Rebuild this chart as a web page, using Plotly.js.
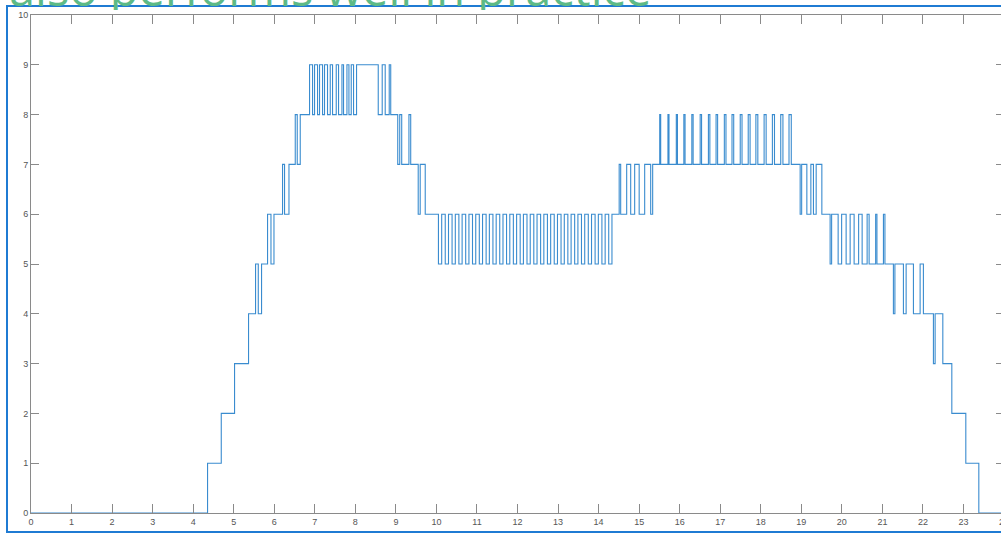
<!DOCTYPE html>
<html>
<head>
<meta charset="utf-8">
<script src="https://cdn.plot.ly/plotly-3.0.1.min.js"></script>
<style>
  html, body { margin: 0; padding: 0; overflow: hidden; background: #fff; }
  #wrap { position: relative; width: 1001px; height: 533px; overflow: hidden; }
  #chart { position: absolute; left: 0; top: 0; width: 1010px; height: 533px; z-index: 1; }
  #frame { position: absolute; left: 6px; top: 5px; width: 1020px; height: 524px;
           border: 2px solid #1f7bd3; pointer-events: none; z-index: 2; }
  #overlay { position: absolute; left: 9px; top: 0; width: 900px; height: 10px;
             overflow: hidden; z-index: 3; pointer-events: none; }
  #overlay span { position: absolute; left: 0; top: -35px; white-space: nowrap;
                  font-family: 'Open Sans', sans-serif; font-size: 47px; line-height: 47px;
                  color: #5dba86; }
</style>
</head>
<body>
<div id="wrap">
  <div id="chart"></div>
  <div id="frame"></div>
  <div id="overlay"><span id="overlayText"></span></div>
</div>
<script>
// Step signal: x positions where the level changes, and the new level
const changeX = [
  0, 4.355, 4.693, 5.021, 5.366, 5.539, 5.606, 5.687, 5.835, 5.919, 5.993,
  6.205, 6.254, 6.363, 6.518, 6.567, 6.641,
  6.871, 6.945, 6.994, 7.068, 7.117, 7.191, 7.240, 7.314, 7.381, 7.438,
  7.529, 7.586, 7.670, 7.709, 7.793, 7.842, 7.899, 7.956, 8.030,
  8.565, 8.663, 8.737, 8.836, 8.873, 9.046, 9.095, 9.144, 9.322, 9.366,
  9.551, 9.600, 9.724,
  10.050, 10.130, 10.218, 10.298, 10.386, 10.466, 10.554, 10.634, 10.722, 10.802,
  10.890, 10.970, 11.058, 11.138, 11.226, 11.306, 11.394, 11.474, 11.562, 11.642,
  11.730, 11.810, 11.898, 11.978, 12.066, 12.146, 12.234, 12.314, 12.402, 12.482,
  12.570, 12.650, 12.738, 12.818, 12.906, 12.986, 13.074, 13.154, 13.242, 13.322,
  13.410, 13.490, 13.578, 13.658, 13.746, 13.826, 13.914, 13.994, 14.082, 14.162,
  14.250, 14.330,
  14.508, 14.545, 14.693, 14.792, 14.890, 15.001, 15.137, 15.285, 15.334,
  15.508, 15.532, 15.711, 15.737, 15.917, 15.945, 16.103, 16.133, 16.300, 16.332,
  16.506, 16.540, 16.709, 16.745, 16.898, 16.936, 17.102, 17.142, 17.291, 17.333,
  17.494, 17.538, 17.691, 17.737, 17.880, 17.928, 18.083, 18.133, 18.287, 18.339,
  18.493, 18.547, 18.697, 18.753,
  18.972, 19.009, 19.137, 19.236, 19.300, 19.367, 19.507,
  19.711, 19.748, 19.909, 19.995, 20.106, 20.205, 20.303, 20.414,
  20.501, 20.624, 20.673, 20.834, 20.866, 21.026, 21.063,
  21.272, 21.309, 21.519, 21.586, 21.766, 21.931, 22.012,
  22.259, 22.301, 22.491, 22.713, 23.058, 23.379, 24
];
const level = [
  0, 1, 2, 3, 4, 5, 4, 5, 6, 5, 6,
  7, 6, 7, 8, 7, 8,
  9, 8, 9, 8, 9, 8, 9, 8, 9, 8,
  9, 8, 9, 8, 9, 8, 9, 8, 9,
  8, 9, 8, 9, 8, 7, 8, 7, 8, 7,
  6, 7, 6,
  5, 6, 5, 6, 5, 6, 5, 6, 5, 6,
  5, 6, 5, 6, 5, 6, 5, 6, 5, 6,
  5, 6, 5, 6, 5, 6, 5, 6, 5, 6,
  5, 6, 5, 6, 5, 6, 5, 6, 5, 6,
  5, 6, 5, 6, 5, 6, 5, 6, 5, 6,
  5, 6,
  7, 6, 7, 6, 7, 6, 7, 6, 7,
  8, 7, 8, 7, 8, 7, 8, 7, 8, 7,
  8, 7, 8, 7, 8, 7, 8, 7, 8, 7,
  8, 7, 8, 7, 8, 7, 8, 7, 8, 7,
  8, 7, 8, 7,
  6, 7, 6, 7, 6, 7, 6,
  5, 6, 5, 6, 5, 6, 5, 6,
  5, 6, 5, 6, 5, 6, 5,
  4, 5, 4, 5, 4, 5, 4,
  3, 4, 3, 2, 1, 0, 0
];
const xTicks = [0,1,2,3,4,5,6,7,8,9,10,11,12,13,14,15,16,17,18,19,20,21,22,23,24];
const yTicks = [0,1,2,3,4,5,6,7,8,9,10];
const overlayText = "also performs well in practice";

document.getElementById('overlayText').textContent = overlayText;

const trace = {
  x: changeX, y: level, type: 'scatter', mode: 'lines',
  line: { shape: 'hv', color: '#3a8ccf', width: 1.1 },
  hoverinfo: 'skip'
};

const axisCommon = {
  showgrid: false, zeroline: false, showline: true, mirror: 'ticks',
  linecolor: '#8a8a8a', linewidth: 1, ticks: 'inside', tickcolor: '#8a8a8a',
  tickwidth: 1, tickfont: { family: 'Liberation Sans, Arial, sans-serif', size: 9, color: '#555' }
};

const layout = {
  width: 1010, height: 533,
  margin: { l: 31, r: 6, t: 15, b: 20 },
  paper_bgcolor: '#fff', plot_bgcolor: '#fff',
  showlegend: false,
  xaxis: Object.assign({}, axisCommon, {
    range: [0, 24], tickmode: 'array', tickvals: xTicks, ticktext: xTicks.map(String),
    ticklen: 9
  }),
  yaxis: Object.assign({}, axisCommon, {
    range: [0, 10], tickmode: 'array', tickvals: yTicks, ticktext: yTicks.map(String),
    ticklen: 8
  })
};

Plotly.newPlot('chart', [trace], layout, { staticPlot: true, displayModeBar: false });
</script>
</body>
</html>
